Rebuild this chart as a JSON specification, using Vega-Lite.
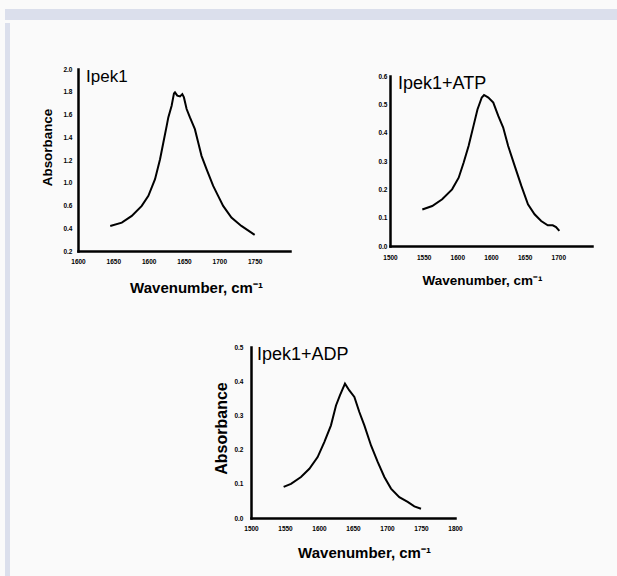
{
  "$schema": "https://vega.github.io/schema/vega-lite/v6.json",
  "background": "#fafafa",
  "padding": {"left": 4, "top": 9, "right": 0, "bottom": 0},
  "config": {
    "view": {"stroke": null},
    "axis": {
      "grid": false, "ticks": false, "domainColor": "#000", "domainWidth": 2.5, "domainCap": "square",
      "labelFont": "Liberation Sans Narrow, Liberation Sans, sans-serif", "labelFontWeight": "bold", "labelFontSize": 6.5, "labelColor": "#000",
      "titleFont": "Liberation Sans, sans-serif", "titleFontWeight": "bold", "titleColor": "#000",
      "labelFlush": false, "labelOverlap": false, "labelBound": false
    },
    "title": {"font": "Liberation Sans, sans-serif", "fontWeight": "normal", "color": "#000", "anchor": "start", "frame": "group"}
  },
  "datasets": {
    "ipek1": [
      {"wavenumber": 1645.6, "absorbance": 0.448}, {"wavenumber": 1662.0, "absorbance": 0.481}, {"wavenumber": 1676.1, "absorbance": 0.547},
      {"wavenumber": 1690.2, "absorbance": 0.646}, {"wavenumber": 1699.6, "absorbance": 0.745}, {"wavenumber": 1709.0, "absorbance": 0.910},
      {"wavenumber": 1716.1, "absorbance": 1.108}, {"wavenumber": 1720.8, "absorbance": 1.273}, {"wavenumber": 1725.5, "absorbance": 1.438},
      {"wavenumber": 1727.8, "absorbance": 1.521}, {"wavenumber": 1732.5, "absorbance": 1.637}, {"wavenumber": 1735.8, "absorbance": 1.759},
      {"wavenumber": 1737.2, "absorbance": 1.769}, {"wavenumber": 1740.5, "absorbance": 1.736}, {"wavenumber": 1744.3, "absorbance": 1.729},
      {"wavenumber": 1747.6, "absorbance": 1.752}, {"wavenumber": 1749.9, "absorbance": 1.719}, {"wavenumber": 1753.7, "absorbance": 1.604},
      {"wavenumber": 1758.4, "absorbance": 1.521}, {"wavenumber": 1765.4, "absorbance": 1.405}, {"wavenumber": 1770.1, "absorbance": 1.273},
      {"wavenumber": 1774.8, "absorbance": 1.141}, {"wavenumber": 1781.9, "absorbance": 1.009}, {"wavenumber": 1791.3, "absorbance": 0.844},
      {"wavenumber": 1798.3, "absorbance": 0.745}, {"wavenumber": 1805.4, "absorbance": 0.646}, {"wavenumber": 1817.1, "absorbance": 0.530},
      {"wavenumber": 1831.2, "absorbance": 0.448}, {"wavenumber": 1850.0, "absorbance": 0.359}
    ],
    "ipek1atp": [
      {"wavenumber": 1548.0, "absorbance": 0.129}, {"wavenumber": 1562.7, "absorbance": 0.141}, {"wavenumber": 1577.5, "absorbance": 0.165},
      {"wavenumber": 1592.2, "absorbance": 0.200}, {"wavenumber": 1602.0, "absorbance": 0.241}, {"wavenumber": 1609.3, "absorbance": 0.294},
      {"wavenumber": 1616.7, "absorbance": 0.353}, {"wavenumber": 1624.0, "absorbance": 0.424}, {"wavenumber": 1629.9, "absorbance": 0.482},
      {"wavenumber": 1636.3, "absorbance": 0.524}, {"wavenumber": 1639.7, "absorbance": 0.533}, {"wavenumber": 1646.1, "absorbance": 0.524},
      {"wavenumber": 1653.4, "absorbance": 0.506}, {"wavenumber": 1660.8, "absorbance": 0.459}, {"wavenumber": 1668.1, "absorbance": 0.418},
      {"wavenumber": 1675.5, "absorbance": 0.353}, {"wavenumber": 1685.3, "absorbance": 0.282}, {"wavenumber": 1695.1, "absorbance": 0.212},
      {"wavenumber": 1704.9, "absorbance": 0.147}, {"wavenumber": 1714.7, "absorbance": 0.112}, {"wavenumber": 1724.5, "absorbance": 0.088},
      {"wavenumber": 1734.3, "absorbance": 0.073}, {"wavenumber": 1741.7, "absorbance": 0.073}, {"wavenumber": 1746.6, "absorbance": 0.067},
      {"wavenumber": 1751.5, "absorbance": 0.053}
    ],
    "ipek1adp": [
      {"wavenumber": 1548.0, "absorbance": 0.091}, {"wavenumber": 1558.8, "absorbance": 0.100}, {"wavenumber": 1573.5, "absorbance": 0.120},
      {"wavenumber": 1585.8, "absorbance": 0.144}, {"wavenumber": 1598.0, "absorbance": 0.178}, {"wavenumber": 1607.8, "absorbance": 0.222},
      {"wavenumber": 1617.6, "absorbance": 0.271}, {"wavenumber": 1625.0, "absorbance": 0.329}, {"wavenumber": 1630.9, "absorbance": 0.359},
      {"wavenumber": 1638.2, "absorbance": 0.393}, {"wavenumber": 1644.6, "absorbance": 0.373}, {"wavenumber": 1652.0, "absorbance": 0.354},
      {"wavenumber": 1659.3, "absorbance": 0.310}, {"wavenumber": 1666.7, "absorbance": 0.271}, {"wavenumber": 1676.5, "absorbance": 0.212},
      {"wavenumber": 1686.3, "absorbance": 0.164}, {"wavenumber": 1696.1, "absorbance": 0.120}, {"wavenumber": 1705.9, "absorbance": 0.086},
      {"wavenumber": 1718.1, "absorbance": 0.061}, {"wavenumber": 1730.4, "absorbance": 0.047}, {"wavenumber": 1740.2, "absorbance": 0.034},
      {"wavenumber": 1750.0, "absorbance": 0.027}
    ]
  },
  "spacing": 0,
  "vconcat": [
    {
      "width": 612, "height": 11,
      "data": {"values": [{"band": "top"}]},
      "mark": {"type": "point", "opacity": 0},
      "encoding": {},
      "view": {"fill": "#dbdfec", "stroke": null}
    },
    {
      "spacing": 29,
      "hconcat": [
        {
          "width": 5, "height": 556,
          "data": {"values": [{"band": "left"}]},
          "mark": {"type": "point", "opacity": 0},
          "encoding": {},
          "view": {"fill": "#dbdfec", "stroke": null}
        },
        {
          "spacing": 39,
          "vconcat": [
            {
              "width": 1, "height": 1,
              "data": {"values": [{"band": "spacer"}]},
              "mark": {"type": "point", "opacity": 0},
              "encoding": {}
            },
            {
              "spacing": 49,
              "vconcat": [
                {
                  "spacing": 87,
                  "hconcat": [
                    {
                      "width": 212, "height": 182,
                      "data": {"name": "ipek1"},
                      "title": {"text": "Ipek1", "fontSize": 17, "offset": -20, "dx": 8},
                      "mark": {"type": "line", "color": "#000", "strokeWidth": 2},
                      "encoding": {
                        "x": {"field": "wavenumber", "type": "quantitative", "scale": {"domain": [1600, 1900], "nice": false, "zero": false},
                          "axis": {"values": [1600, 1650, 1700, 1750, 1800, 1850, 1900],
                            "labelExpr": "['1600','1650','1600','1650','1700','1750',''][round((datum.value-1600)/50)]",
                            "labelPadding": 7, "title": "Wavenumber, cm⁻¹", "titleFontSize": 15, "titleX": 118, "titleY": 36, "titleBaseline": "middle"}},
                        "y": {"field": "absorbance", "type": "quantitative", "scale": {"domain": [0.2, 2.0], "nice": false, "zero": false},
                          "axis": {"values": [0.2, 0.425, 0.65, 0.875, 1.1, 1.325, 1.55, 1.775, 2.0],
                            "labelExpr": "['0.2','0.4','0.6','1.0','1.2','1.4','1.6','1.8','2.0'][round((datum.value-0.2)/0.225)]",
                            "labelPadding": 6, "title": "Absorbance", "titleFontSize": 13.4, "titlePadding": 8, "titleY": 78}}
                      }
                    },
                    {
                      "spacing": 0,
                      "vconcat": [
                        {
                          "width": 1, "height": 1,
                          "data": {"values": [{"band": "spacer"}]},
                          "mark": {"type": "point", "opacity": 0},
                          "encoding": {}
                        },
                        {
                          "width": 202, "height": 170,
                          "data": {"name": "ipek1atp"},
                          "title": {"text": "Ipek1+ATP", "fontSize": 18, "offset": -20, "dx": 8},
                          "mark": {"type": "line", "color": "#000", "strokeWidth": 2},
                          "encoding": {
                            "x": {"field": "wavenumber", "type": "quantitative", "scale": {"domain": [1500, 1800], "nice": false, "zero": false},
                              "axis": {"values": [1500, 1550, 1600, 1650, 1700, 1750, 1800],
                                "labelExpr": "['1500','1550','1600','1600','1650','1700',''][round((datum.value-1500)/50)]",
                                "labelPadding": 8, "title": "Wavenumber, cm⁻¹", "titleFontSize": 13.5, "titleX": 92, "titleY": 34, "titleBaseline": "middle"}},
                            "y": {"field": "absorbance", "type": "quantitative", "scale": {"domain": [0, 0.6], "nice": false, "zero": false},
                              "axis": {"values": [0, 0.1, 0.2, 0.3, 0.4, 0.5, 0.6], "format": ".1f", "labelPadding": 3, "title": null}}
                          }
                        }
                      ]
                    }
                  ]
                },
                {
                  "spacing": 131,
                  "hconcat": [
                    {
                      "width": 1, "height": 1,
                      "data": {"values": [{"band": "spacer"}]},
                      "mark": {"type": "point", "opacity": 0},
                      "encoding": {}
                    },
                    {
                      "width": 204, "height": 171,
                      "data": {"name": "ipek1adp"},
                      "title": {"text": "Ipek1+ADP", "fontSize": 18, "offset": -20, "dx": 6},
                      "mark": {"type": "line", "color": "#000", "strokeWidth": 2},
                      "encoding": {
                        "x": {"field": "wavenumber", "type": "quantitative", "scale": {"domain": [1500, 1800], "nice": false, "zero": false},
                          "axis": {"values": [1500, 1550, 1600, 1650, 1700, 1750, 1800], "format": "d",
                            "labelPadding": 7, "title": "Wavenumber, cm⁻¹", "titleFontSize": 15, "titleX": 113, "titleY": 34, "titleBaseline": "middle"}},
                        "y": {"field": "absorbance", "type": "quantitative", "scale": {"domain": [0, 0.5], "nice": false, "zero": false},
                          "axis": {"values": [0, 0.1, 0.2, 0.3, 0.4, 0.5], "format": ".1f",
                            "labelPadding": 8, "title": "Absorbance", "titleFontSize": 16, "titlePadding": 4, "titleY": 81}}
                      }
                    }
                  ]
                }
              ]
            }
          ]
        }
      ]
    }
  ]
}
